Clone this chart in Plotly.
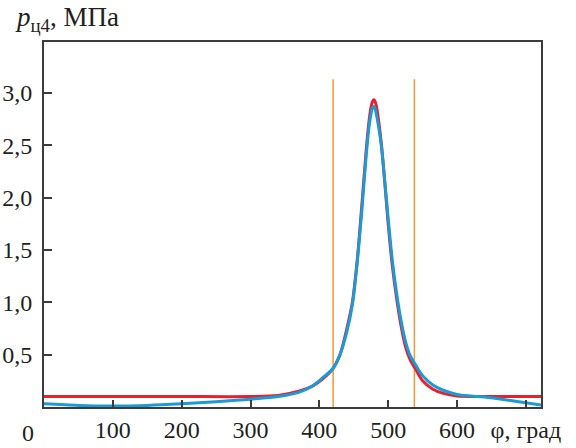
import plotly.graph_objects as go

# Red curve (calculated)
phi_red = [0, 100, 200, 300, 340, 370, 390, 405, 420, 430, 440, 448, 455, 462, 468, 472, 475, 477, 479, 481, 483,
           486, 490, 495, 500, 506, 512, 518, 525, 532, 540, 550, 565, 580, 600, 640, 722]
p_red = [0.10, 0.10, 0.10, 0.10, 0.11, 0.15, 0.20, 0.27, 0.37, 0.50, 0.75, 1.00, 1.40, 1.95, 2.45, 2.72, 2.86, 2.915, 2.935, 2.92, 2.87,
         2.74, 2.52, 2.15, 1.75, 1.35, 1.05, 0.80, 0.58, 0.45, 0.36, 0.25, 0.17, 0.13, 0.105, 0.10, 0.10]

# Blue curve (experimental)
phi_blue = [0, 50, 100, 150, 200, 250, 300, 340, 370, 390, 405, 420, 430, 440, 448, 455, 462, 468, 472, 475, 477, 479, 481, 483,
            486, 490, 495, 500, 506, 512, 518, 525, 532, 540, 550, 565, 580, 600, 620, 640, 680, 722]
p_blue = [0.03, 0.015, 0.01, 0.015, 0.03, 0.05, 0.075, 0.10, 0.14, 0.20, 0.28, 0.37, 0.50, 0.72, 0.98, 1.38, 1.90, 2.40, 2.67, 2.80, 2.855, 2.87, 2.85, 2.79,
          2.68, 2.50, 2.16, 1.80, 1.40, 1.10, 0.85, 0.63, 0.49, 0.40, 0.30, 0.21, 0.16, 0.12, 0.105, 0.095, 0.06, 0.02]

# Vertical markers
v_lines = [420, 538]
v_top = 3.13

x_tickvals = [100, 200, 300, 400, 500, 600, 700]
x_ticktext = ["100", "200", "300", "400", "500", "600", "φ, град"]
y_tickvals = [0.5, 1.0, 1.5, 2.0, 2.5, 3.0]
y_ticktext = ["0,5", "1,0", "1,5", "2,0", "2,5", "3,0"]

FONT = "Liberation Serif, Times New Roman, serif"
TXT = "#231F20"
AX = "#3C3C3C"

W, H = 576, 448
L, T, R, B = 44, 42, 35, 41
PW, PH = W - L - R, H - T - B

fig = go.Figure()

for xv in v_lines:
    fig.add_trace(go.Scatter(x=[xv, xv], y=[0, v_top], mode="lines",
                             line=dict(color="#F39A3C", width=1.5), showlegend=False, hoverinfo="skip"))

fig.add_trace(go.Scatter(x=phi_red, y=p_red, mode="lines",
                         line=dict(color="#E8202A", width=3, shape="spline", smoothing=0.8), showlegend=False))
fig.add_trace(go.Scatter(x=phi_blue, y=p_blue, mode="lines",
                         line=dict(color="#1A9AD7", width=3, shape="spline", smoothing=0.8), showlegend=False))

fig.update_layout(
    template="none",
    width=W, height=H,
    margin=dict(l=L, r=R, t=T, b=B, pad=0),
    paper_bgcolor="white", plot_bgcolor="white",
    font=dict(family=FONT, size=24, color=TXT),
    showlegend=False,
)
fig.update_xaxes(range=[0, 722], tickvals=x_tickvals, ticktext=x_ticktext,
                 ticks="inside", ticklen=7, tickwidth=1.5, tickcolor=AX,
                 showline=True, linecolor=AX, linewidth=2, mirror=True,
                 showgrid=False, zeroline=False, automargin=False,
                 tickfont=dict(family=FONT, size=24, color=TXT))
fig.update_yaxes(range=[0, 3.487], tickvals=y_tickvals, ticktext=y_ticktext,
                 ticks="inside", ticklen=8, tickwidth=1.5, tickcolor=AX,
                 showline=True, linecolor=AX, linewidth=2, mirror=True,
                 showgrid=False, zeroline=False, automargin=False,
                 ticklabelstandoff=5,
                 tickfont=dict(family=FONT, size=24, color=TXT))

fig.add_annotation(xref="paper", yref="paper", x=(27.5 - L) / PW, y=-(433 - (H - B)) / PH,
                   text="0", showarrow=False, xanchor="center", yanchor="middle",
                   font=dict(family=FONT, size=24, color=TXT))
fig.add_annotation(xref="paper", yref="paper", x=(13 - L) / PW, y=1 + (T - 0) / PH,
                   text="<i>p</i><sub>ц4</sub>, МПа", showarrow=False,
                   xanchor="left", yanchor="top",
                   font=dict(family=FONT, size=27, color=TXT))

fig.write_html("out.html", config={"displayModeBar": False},
               post_script="document.body.style.margin='0px';document.body.style.padding='0px';")
